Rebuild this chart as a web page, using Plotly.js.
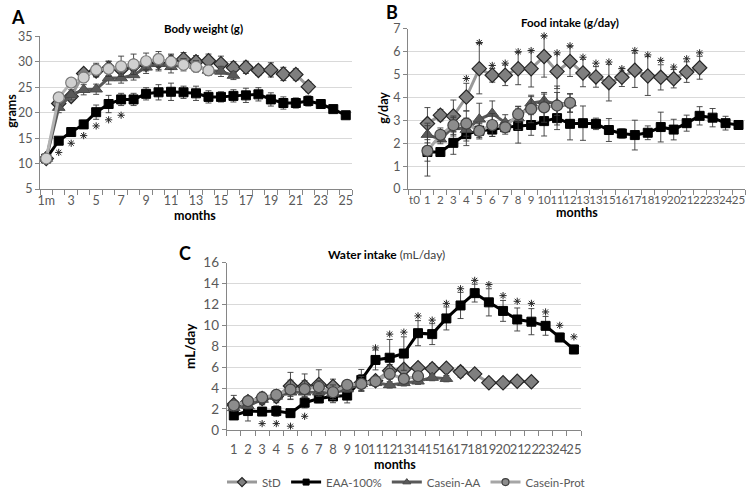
<!DOCTYPE html>
<html>
<head>
<meta charset="utf-8">
<script src="https://cdn.plot.ly/plotly-3.0.1.min.js"></script>
<style>html,body{margin:0;padding:0;background:#fff;}#chart{width:751px;height:497px;}</style>
</head>
<body>
<div id="chart"></div>
<script>
// ---------- Panel A: Body weight (g) ----------
const monthsA = [1,2,3,4,5,6,7,8,9,10,11,12,13,14,15,16,17,18,19,20,21,22,23,24,25];
const tickValsA = [1,3,5,7,9,11,13,15,17,19,21,23,25];
const tickTextA = ["1m","3","5","7","9","11","13","15","17","19","21","23","25"];
const bwStD     = [11,21.8,23.2,27.7,28.2,28.7,28.5,29.2,29.5,30,30,30.5,30,30.2,29.6,28.8,28.9,28.3,28.4,27.6,27.5,25.1];
const bwStDErr  = [0.3,0.8,0.8,0.8,1.2,1.4,1.3,1.2,1.3,1.5,1.3,1.3,1.2,1.3,1.5,1.2,1.2,1.0,1.4,1.3,1.1,1.0];
const bwEAA     = [11,14.5,16.2,17.7,20.1,21.7,22.6,22.6,23.7,24,24.1,24,23.8,23.1,23.1,23.3,23.4,23.6,22.6,21.9,21.9,22.3,21.7,20.7,19.5];
const bwEAAErr  = [0.3,0.5,0.5,0.8,1.4,1.7,1.2,1.2,1.2,1.5,1.7,1.2,1.4,1.2,1.0,1.2,1.4,1.3,1.3,1.2,1.0,1.0,0.8,0.5,0.3];
const bwCasAA   = [11,21.0,23.5,24.5,24.6,26.8,26.8,27.4,28.9,29.6,29.0,29.5,29.2,28.3,28.1,27.3];
const bwCasAAErr= [0.3,1.0,1.0,1.0,1.0,1.2,1.0,1.0,1.2,1.4,1.2,1.0,1.0,1.0,1.0,0.8];
const bwCasP    = [11,23.0,25.9,26.9,28.4,28.6,29.1,29.5,30.1,30.5,30.0,29.4,29.0,28.3];
const bwCasPErr = [0.3,0.8,0.8,1.0,1.3,1.5,2.0,2.0,1.6,1.5,1.5,1.2,1.0,1.0];
const sigMonthsA = [2,3,4,5,6,7];
const sigYA      = [12.2,14.0,15.5,17.4,18.6,19.5];

// ---------- Panel B: Food intake (g/day) ----------
const tickValsB = [0,1,2,3,4,5,6,7,8,9,10,11,12,13,14,15,16,17,18,19,20,21,22,23,24,25];
const tickTextB = ["t0","1","2","3","4","5","6","7","8","9","10","11","12","13","13","15","16","17","18","19","20","21","22","23","24","25"];
const fiStD     = [2.86,3.23,3.19,4.02,5.26,4.97,4.97,5.26,5.26,5.79,5.14,5.57,5.07,4.9,4.65,4.88,5.19,4.94,4.88,4.82,5.11,5.3];
const fiStDErr  = [0.7,0.25,0.7,0.6,1.1,0.3,0.45,0.7,0.8,0.9,0.75,0.65,0.6,0.45,0.8,0.4,0.75,0.85,0.55,0.4,0.45,0.5];
const fiEAA     = [1.62,1.62,2.02,2.4,2.55,2.6,2.7,2.76,2.8,2.97,3.1,2.85,2.88,2.85,2.58,2.43,2.36,2.46,2.71,2.6,2.88,3.2,3.12,2.88,2.8];
const fiEAAErr  = [0.4,0.1,0.5,0.5,0.3,0.3,0.3,0.75,0.45,0.65,0.5,0.7,0.75,0.25,0.5,0.2,0.65,0.3,0.65,0.45,0.35,0.4,0.4,0.3,0.15];
const fiCasAA   = [2.38,2.18,2.72,2.6,3.05,3.3,2.9,3.1,3.75,3.85,3.72,3.75];
const fiCasAAErr= [0.5,0.2,0.4,0.5,0.7,0.55,0.35,0.5,0.3,0.3,0.5,0.4];
const fiCasP    = [1.67,2.37,2.79,2.86,2.54,2.8,2.7,3.27,3.5,3.57,3.65,3.77];
const fiCasPErr = [1.1,0.3,0.4,0.55,0.35,0.5,0.2,0.35,0.6,0.65,0.85,0.4];
const sigMonthsB = [4,5,6,7,8,9,10,11,12,13,14,15,16,17,18,19,20,21,22];
const sigYB      = [4.83,6.4,5.4,5.5,6.0,6.05,6.69,5.95,6.26,5.76,5.5,5.55,5.26,6.05,5.86,5.62,5.33,5.69,5.95];

// ---------- Panel C: Water intake (mL/day) ----------
const monthsC = [1,2,3,4,5,6,7,8,9,10,11,12,13,14,15,16,17,18,19,20,21,22,23,24,25];
const wiStD     = [2.4,2.7,3.0,3.2,4.2,4.15,4.35,4.15,4.1,4.5,4.7,5.65,5.8,5.95,5.85,5.9,5.55,5.35,4.5,4.5,4.65,4.6];
const wiStDErr  = [0.9,0.2,0.6,0.6,1.3,1.2,1.4,0.7,0.3,0.8,0.4,0.6,0.4,0.4,0.5,0.3,0.5,0.2,0.2,0.2,0.2,0.2];
const wiEAA     = [1.38,1.8,1.75,1.8,1.6,2.6,3.0,3.2,3.28,4.78,6.69,6.9,7.3,9.25,9.16,10.66,11.9,13.08,12.2,11.38,10.56,10.35,9.95,8.84,7.69];
const wiEAAErr  = [0.3,0.95,0.2,0.5,0.2,0.5,0.4,0.6,0.7,1.0,0.95,1.75,1.6,1.2,1.0,1.1,1.25,0.85,1.3,1.0,1.1,1.25,0.9,0.4,0.4];
const wiCasAA   = [2.1,2.3,2.9,3.2,3.6,3.6,3.6,3.5,3.9,4.4,4.5,4.3,4.5,4.65,5.0,4.9];
const wiCasAAErr= [0.3,0.3,0.4,0.4,0.4,0.4,0.4,0.4,0.3,0.4,0.3,0.3,0.3,0.3,0.3,0.3];
const wiCasP    = [2.35,2.75,3.1,3.35,3.85,3.9,4.1,3.6,4.3,4.4,4.65,5.35,4.88,5.13];
const wiCasPErr = [0.4,0.2,0.4,0.4,0.9,0.8,0.6,0.7,0.3,0.7,0.4,0.5,0.4,0.4];
const sigMonthsC = [3,4,5,6,11,12,13,14,15,16,17,18,19,20,21,22,23,24,25];
const sigYC      = [0.6,0.6,0.35,1.3,7.84,9.16,9.35,10.9,10.5,12.1,13.5,14.3,13.9,12.84,12.3,12.1,11.28,10.0,8.9];

const seriesNames = ["StD","EAA-100%","Casein-AA","Casein-Prot"];

// ---------- styling ----------
const FONT = "Lato, 'Open Sans', sans-serif";
const TICKC = "#595959";
const AXC = "#868686";
const GRIDC = "#d9d9d9";
const W = 751, H = 497;
const px = v => v / W;
const py = v => 1 - v / H;

function styleFor(name, panel) {
  if (name === "StD") return {
    line: {color: "#999999", width: 3},
    marker: {symbol: "diamond", size: 11, color: "#7f7f7f", line: {color: "#262626", width: 1.2}}
  };
  if (name === "EAA-100%") return {
    line: {color: "#000000", width: 3},
    marker: {symbol: "square", size: 9, color: "#000000", line: {color: "#000000", width: 1}}
  };
  if (name === "Casein-AA") return {
    line: {color: "#595959", width: 3},
    marker: {symbol: "triangle-up", size: 11, color: "#595959", line: {color: "#4a4a4a", width: 1}}
  };
  return {
    line: {color: panel === "A" ? "#b3b3b3" : "#a6a6a6", width: 3},
    marker: {symbol: "circle", size: 11, color: panel === "A" ? "#d0d0d0" : "#8c8c8c",
             line: {color: panel === "A" ? "#7a7a7a" : "#404040", width: 1.2}}
  };
}

function series(name, xs, ys, errs, xa, ya, panel) {
  const st = styleFor(name, panel);
  return {
    type: "scatter", mode: "lines+markers", name: name,
    x: xs.slice(0, ys.length), y: ys, xaxis: xa, yaxis: ya,
    line: st.line, marker: st.marker, showlegend: false,
    error_y: {type: "data", array: errs, visible: true, color: "#3a3a3a", thickness: 0.9, width: 3},
    hoverinfo: "x+y"
  };
}

function legendEntry(name) {
  const st = styleFor(name, "C");
  const m = Object.assign({}, st.marker, {size: name === "EAA-100%" ? 6 : 7});
  return {type: "scatter", mode: "lines+markers", name: name, x: [null], y: [null],
          xaxis: "x3", yaxis: "y3", line: st.line, marker: m, showlegend: true, hoverinfo: "skip"};
}

function stars(xs, ys, xa, ya) {
  return {
    type: "scatter", mode: "markers", x: xs, y: ys,
    marker: {symbol: "asterisk-open", size: 6, color: "#262626", line: {color: "#262626", width: 1}},
    xaxis: xa, yaxis: ya, showlegend: false, hoverinfo: "skip"
  };
}

const monthsB = tickValsB.slice(1);
const traces = [
  series("StD", monthsA, bwStD, bwStDErr, "x", "y", "A"),
  series("EAA-100%", monthsA, bwEAA, bwEAAErr, "x", "y", "A"),
  series("Casein-AA", monthsA, bwCasAA, bwCasAAErr, "x", "y", "A"),
  series("Casein-Prot", monthsA, bwCasP, bwCasPErr, "x", "y", "A"),
  stars(sigMonthsA, sigYA, "x", "y"),
  series("StD", monthsB, fiStD, fiStDErr, "x2", "y2", "B"),
  series("EAA-100%", monthsB, fiEAA, fiEAAErr, "x2", "y2", "B"),
  series("Casein-AA", monthsB, fiCasAA, fiCasAAErr, "x2", "y2", "B"),
  series("Casein-Prot", monthsB, fiCasP, fiCasPErr, "x2", "y2", "B"),
  stars(sigMonthsB, sigYB, "x2", "y2"),
  series("StD", monthsC, wiStD, wiStDErr, "x3", "y3", "C"),
  series("EAA-100%", monthsC, wiEAA, wiEAAErr, "x3", "y3", "C"),
  series("Casein-AA", monthsC, wiCasAA, wiCasAAErr, "x3", "y3", "C"),
  series("Casein-Prot", monthsC, wiCasP, wiCasPErr, "x3", "y3", "C"),
  stars(sigMonthsC, sigYC, "x3", "y3")
].concat(seriesNames.map(legendEntry));

function xAxis(domain, range, tv, tt, tick0, fsize, standoff, anchor) {
  return {
    domain: domain, range: range, anchor: anchor, tickmode: "array", tickvals: tv, ticktext: tt,
    tickangle: 0, ticks: "", showgrid: false, zeroline: false, showline: true, linecolor: AXC, linewidth: 1,
    tickfont: {family: FONT, size: fsize, color: TICKC}, ticklabelstandoff: standoff, fixedrange: true,
    minor: {tickmode: "linear", tick0: tick0, dtick: 1, ticks: "outside", ticklen: 5, tickcolor: AXC, tickwidth: 1, showgrid: false}
  };
}
function yAxis(domain, range, dtick, fsize, anchor) {
  return {
    domain: domain, range: range, dtick: dtick, anchor: anchor, showgrid: true, gridcolor: GRIDC, gridwidth: 1,
    zeroline: false, showline: true, linecolor: AXC, linewidth: 1, ticks: "outside", ticklen: 4, tickcolor: AXC,
    tickfont: {family: FONT, size: fsize, color: TICKC}, fixedrange: true
  };
}

function ann(text, x, y, size, opts) {
  return Object.assign({text: text, x: px(x), y: py(y), xref: "paper", yref: "paper", showarrow: false,
    xanchor: "center", yanchor: "middle", font: {family: FONT, size: size, color: "#000"}}, opts || {});
}

const layout = {
  width: W, height: H, margin: {l: 0, r: 0, t: 0, b: 0}, paper_bgcolor: "#fff", plot_bgcolor: "#fff",
  xaxis: xAxis([px(40), px(352)], [0.5, 25.5], tickValsA, tickTextA, 0.5, 12.5, 0, "y"),
  yaxis: yAxis([py(193), py(37)], [5, 35], 5, 12.5, "x"),
  xaxis2: xAxis([px(408), px(745)], [-0.5, 25.5], tickValsB, tickTextB, -0.5, 11.5, 0, "y2"),
  yaxis2: yAxis([py(193), py(29.4)], [0, 7], 1, 12.5, "x2"),
  xaxis3: xAxis([px(226.7), px(581)], [0.5, 25.5], monthsC, monthsC.map(String), 0.5, 13, 8, "y3"),
  yaxis3: yAxis([py(438.7), py(268)], [0, 16], 2, 13.5, "x3"),
  showlegend: true,
  legend: {orientation: "h", x: px(222), y: py(492), xanchor: "left", yanchor: "middle",
           font: {family: FONT, size: 11.5, color: TICKC}, bgcolor: "rgba(0,0,0,0)", tracegroupgap: 0, itemwidth: 30},
  annotations: [
    ann("<b>A</b>", 18, 17, 18),
    ann("<b>B</b>", 392, 12, 18),
    ann("<b>C</b>", 185, 258, 18),
    ann("<b>Body weight (g)</b>", 203, 29, 11.5),
    ann("<b>Food intake (g/day)</b>", 570, 23, 11.5),
    ann("<b>Water intake</b> <span style='color:#404040'>(mL/day)</span>", 387, 260, 12),
    ann("<b>months</b>", 195, 220, 12.5),
    ann("<b>months</b>", 577, 217, 12.5),
    ann("<b>months</b>", 395, 474, 12.5),
    ann("<b>grams</b>", 12, 113, 12.5, {textangle: -90}),
    ann("<b>g/day</b>", 384, 110, 12.5, {textangle: -90}),
    ann("<b>mL/day</b>", 190, 353, 13.5, {textangle: -90})
  ]
};

Plotly.newPlot("chart", traces, layout, {displayModeBar: false, staticPlot: true});
</script>
</body>
</html>
